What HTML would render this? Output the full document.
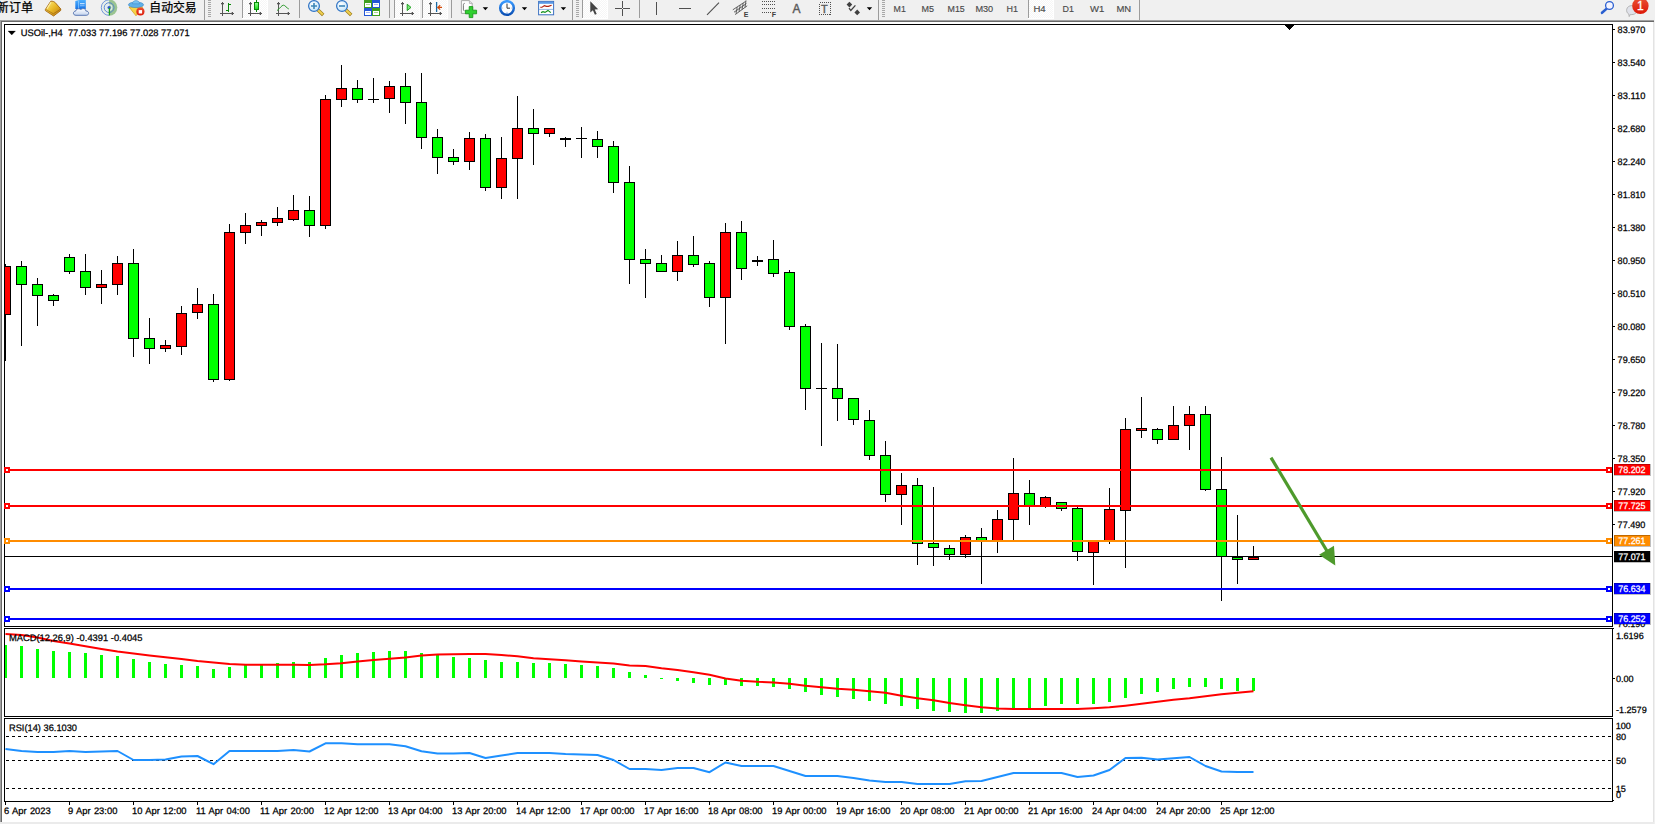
<!DOCTYPE html>
<html lang="zh"><head><meta charset="utf-8"><title>USOil-,H4</title>
<style>
html,body{margin:0;padding:0;background:#fff;}
body{width:1655px;height:824px;overflow:hidden;position:relative;font-family:"Liberation Sans","Noto Sans CJK SC",sans-serif;}
#tb{position:absolute;left:0;top:0;width:1655px;height:20px;background:#f0f0f0;overflow:hidden;}
</style></head><body>
<svg id="chart" width="1655" height="824" viewBox="0 0 1655 824" style="position:absolute;left:0;top:0" shape-rendering="crispEdges">
<defs><clipPath id="cm"><rect x="5" y="25" width="1607" height="601"/></clipPath></defs>
<rect x="0" y="20" width="1654" height="1" fill="#a0a0a0"/>
<rect x="0" y="21" width="1654" height="1" fill="#696969"/>
<rect x="0" y="20" width="1" height="804" fill="#a0a0a0"/>
<rect x="1" y="21" width="1" height="803" fill="#696969"/>
<rect x="0" y="822" width="1655" height="2" fill="#ebebeb"/>
<rect x="1653" y="22" width="1" height="800" fill="#e3e3e3"/>
<rect x="1654" y="20" width="1" height="804" fill="#f0f0f0"/>
<rect x="4" y="24" width="1609" height="1" fill="#000"/>
<rect x="4" y="626" width="1609" height="1" fill="#000"/>
<rect x="4" y="24" width="1" height="603" fill="#000"/>
<rect x="1612" y="24" width="1" height="603" fill="#000"/>
<rect x="4" y="628" width="1609" height="1" fill="#000"/>
<rect x="4" y="716" width="1609" height="1" fill="#000"/>
<rect x="4" y="628" width="1" height="89" fill="#000"/>
<rect x="1612" y="628" width="1" height="89" fill="#000"/>
<rect x="4" y="718" width="1609" height="1" fill="#000"/>
<rect x="4" y="801" width="1609" height="1" fill="#000"/>
<rect x="4" y="718" width="1" height="84" fill="#000"/>
<rect x="1612" y="718" width="1" height="84" fill="#000"/>
<g clip-path="url(#cm)">
<rect x="5" y="264" width="1" height="97" fill="#000"/>
<rect x="0" y="266" width="11" height="49" fill="#000"/>
<rect x="1" y="267" width="9" height="47" fill="#ff0000"/>
<rect x="21" y="261" width="1" height="85" fill="#000"/>
<rect x="16" y="266" width="11" height="19" fill="#000"/>
<rect x="17" y="267" width="9" height="17" fill="#00ff00"/>
<rect x="37" y="278" width="1" height="48" fill="#000"/>
<rect x="32" y="284" width="11" height="12" fill="#000"/>
<rect x="33" y="285" width="9" height="10" fill="#00ff00"/>
<rect x="53" y="294" width="1" height="12" fill="#000"/>
<rect x="48" y="295" width="11" height="6" fill="#000"/>
<rect x="49" y="296" width="9" height="4" fill="#00ff00"/>
<rect x="69" y="254" width="1" height="20" fill="#000"/>
<rect x="64" y="257" width="11" height="15" fill="#000"/>
<rect x="65" y="258" width="9" height="13" fill="#00ff00"/>
<rect x="85" y="254" width="1" height="41" fill="#000"/>
<rect x="80" y="271" width="11" height="17" fill="#000"/>
<rect x="81" y="272" width="9" height="15" fill="#00ff00"/>
<rect x="101" y="270" width="1" height="34" fill="#000"/>
<rect x="96" y="284" width="11" height="4" fill="#000"/>
<rect x="97" y="285" width="9" height="2" fill="#ff0000"/>
<rect x="117" y="256" width="1" height="39" fill="#000"/>
<rect x="112" y="263" width="11" height="22" fill="#000"/>
<rect x="113" y="264" width="9" height="20" fill="#ff0000"/>
<rect x="133" y="249" width="1" height="108" fill="#000"/>
<rect x="128" y="263" width="11" height="76" fill="#000"/>
<rect x="129" y="264" width="9" height="74" fill="#00ff00"/>
<rect x="149" y="318" width="1" height="46" fill="#000"/>
<rect x="144" y="338" width="11" height="11" fill="#000"/>
<rect x="145" y="339" width="9" height="9" fill="#00ff00"/>
<rect x="165" y="340" width="1" height="12" fill="#000"/>
<rect x="160" y="345" width="11" height="4" fill="#000"/>
<rect x="161" y="346" width="9" height="2" fill="#ff0000"/>
<rect x="181" y="306" width="1" height="49" fill="#000"/>
<rect x="176" y="313" width="11" height="34" fill="#000"/>
<rect x="177" y="314" width="9" height="32" fill="#ff0000"/>
<rect x="197" y="288" width="1" height="31" fill="#000"/>
<rect x="192" y="304" width="11" height="9" fill="#000"/>
<rect x="193" y="305" width="9" height="7" fill="#ff0000"/>
<rect x="213" y="294" width="1" height="88" fill="#000"/>
<rect x="208" y="304" width="11" height="76" fill="#000"/>
<rect x="209" y="305" width="9" height="74" fill="#00ff00"/>
<rect x="229" y="224" width="1" height="157" fill="#000"/>
<rect x="224" y="232" width="11" height="148" fill="#000"/>
<rect x="225" y="233" width="9" height="146" fill="#ff0000"/>
<rect x="245" y="213" width="1" height="31" fill="#000"/>
<rect x="240" y="225" width="11" height="8" fill="#000"/>
<rect x="241" y="226" width="9" height="6" fill="#ff0000"/>
<rect x="261" y="220" width="1" height="16" fill="#000"/>
<rect x="256" y="222" width="11" height="4" fill="#000"/>
<rect x="257" y="223" width="9" height="2" fill="#ff0000"/>
<rect x="277" y="207" width="1" height="19" fill="#000"/>
<rect x="272" y="218" width="11" height="5" fill="#000"/>
<rect x="273" y="219" width="9" height="3" fill="#ff0000"/>
<rect x="293" y="195" width="1" height="26" fill="#000"/>
<rect x="288" y="210" width="11" height="10" fill="#000"/>
<rect x="289" y="211" width="9" height="8" fill="#ff0000"/>
<rect x="309" y="196" width="1" height="41" fill="#000"/>
<rect x="304" y="210" width="11" height="16" fill="#000"/>
<rect x="305" y="211" width="9" height="14" fill="#00ff00"/>
<rect x="325" y="95" width="1" height="134" fill="#000"/>
<rect x="320" y="99" width="11" height="127" fill="#000"/>
<rect x="321" y="100" width="9" height="125" fill="#ff0000"/>
<rect x="341" y="65" width="1" height="42" fill="#000"/>
<rect x="336" y="88" width="11" height="12" fill="#000"/>
<rect x="337" y="89" width="9" height="10" fill="#ff0000"/>
<rect x="357" y="80" width="1" height="23" fill="#000"/>
<rect x="352" y="88" width="11" height="12" fill="#000"/>
<rect x="353" y="89" width="9" height="10" fill="#00ff00"/>
<rect x="373" y="78" width="1" height="25" fill="#000"/>
<rect x="368" y="99" width="11" height="1" fill="#000"/>
<rect x="389" y="81" width="1" height="32" fill="#000"/>
<rect x="384" y="86" width="11" height="13" fill="#000"/>
<rect x="385" y="87" width="9" height="11" fill="#ff0000"/>
<rect x="405" y="73" width="1" height="51" fill="#000"/>
<rect x="400" y="86" width="11" height="17" fill="#000"/>
<rect x="401" y="87" width="9" height="15" fill="#00ff00"/>
<rect x="421" y="73" width="1" height="76" fill="#000"/>
<rect x="416" y="102" width="11" height="36" fill="#000"/>
<rect x="417" y="103" width="9" height="34" fill="#00ff00"/>
<rect x="437" y="129" width="1" height="45" fill="#000"/>
<rect x="432" y="137" width="11" height="21" fill="#000"/>
<rect x="433" y="138" width="9" height="19" fill="#00ff00"/>
<rect x="453" y="149" width="1" height="16" fill="#000"/>
<rect x="448" y="157" width="11" height="5" fill="#000"/>
<rect x="449" y="158" width="9" height="3" fill="#00ff00"/>
<rect x="469" y="132" width="1" height="38" fill="#000"/>
<rect x="464" y="138" width="11" height="24" fill="#000"/>
<rect x="465" y="139" width="9" height="22" fill="#ff0000"/>
<rect x="485" y="134" width="1" height="57" fill="#000"/>
<rect x="480" y="138" width="11" height="50" fill="#000"/>
<rect x="481" y="139" width="9" height="48" fill="#00ff00"/>
<rect x="501" y="137" width="1" height="62" fill="#000"/>
<rect x="496" y="158" width="11" height="30" fill="#000"/>
<rect x="497" y="159" width="9" height="28" fill="#ff0000"/>
<rect x="517" y="96" width="1" height="103" fill="#000"/>
<rect x="512" y="128" width="11" height="31" fill="#000"/>
<rect x="513" y="129" width="9" height="29" fill="#ff0000"/>
<rect x="533" y="109" width="1" height="56" fill="#000"/>
<rect x="528" y="128" width="11" height="6" fill="#000"/>
<rect x="529" y="129" width="9" height="4" fill="#00ff00"/>
<rect x="549" y="128" width="1" height="9" fill="#000"/>
<rect x="544" y="128" width="11" height="6" fill="#000"/>
<rect x="545" y="129" width="9" height="4" fill="#ff0000"/>
<rect x="565" y="137" width="1" height="10" fill="#000"/>
<rect x="560" y="138" width="11" height="2" fill="#000"/>
<rect x="581" y="127" width="1" height="31" fill="#000"/>
<rect x="576" y="138" width="11" height="1" fill="#000"/>
<rect x="597" y="131" width="1" height="27" fill="#000"/>
<rect x="592" y="139" width="11" height="8" fill="#000"/>
<rect x="593" y="140" width="9" height="6" fill="#00ff00"/>
<rect x="613" y="141" width="1" height="52" fill="#000"/>
<rect x="608" y="146" width="11" height="37" fill="#000"/>
<rect x="609" y="147" width="9" height="35" fill="#00ff00"/>
<rect x="629" y="166" width="1" height="118" fill="#000"/>
<rect x="624" y="182" width="11" height="78" fill="#000"/>
<rect x="625" y="183" width="9" height="76" fill="#00ff00"/>
<rect x="645" y="249" width="1" height="49" fill="#000"/>
<rect x="640" y="259" width="11" height="5" fill="#000"/>
<rect x="641" y="260" width="9" height="3" fill="#00ff00"/>
<rect x="661" y="255" width="1" height="17" fill="#000"/>
<rect x="656" y="263" width="11" height="9" fill="#000"/>
<rect x="657" y="264" width="9" height="7" fill="#00ff00"/>
<rect x="677" y="241" width="1" height="40" fill="#000"/>
<rect x="672" y="255" width="11" height="17" fill="#000"/>
<rect x="673" y="256" width="9" height="15" fill="#ff0000"/>
<rect x="693" y="236" width="1" height="31" fill="#000"/>
<rect x="688" y="255" width="11" height="10" fill="#000"/>
<rect x="689" y="256" width="9" height="8" fill="#00ff00"/>
<rect x="709" y="261" width="1" height="46" fill="#000"/>
<rect x="704" y="263" width="11" height="35" fill="#000"/>
<rect x="705" y="264" width="9" height="33" fill="#00ff00"/>
<rect x="725" y="223" width="1" height="121" fill="#000"/>
<rect x="720" y="232" width="11" height="66" fill="#000"/>
<rect x="721" y="233" width="9" height="64" fill="#ff0000"/>
<rect x="741" y="221" width="1" height="59" fill="#000"/>
<rect x="736" y="232" width="11" height="37" fill="#000"/>
<rect x="737" y="233" width="9" height="35" fill="#00ff00"/>
<rect x="757" y="256" width="1" height="10" fill="#000"/>
<rect x="752" y="260" width="11" height="2" fill="#000"/>
<rect x="773" y="240" width="1" height="37" fill="#000"/>
<rect x="768" y="259" width="11" height="15" fill="#000"/>
<rect x="769" y="260" width="9" height="13" fill="#00ff00"/>
<rect x="789" y="270" width="1" height="60" fill="#000"/>
<rect x="784" y="272" width="11" height="55" fill="#000"/>
<rect x="785" y="273" width="9" height="53" fill="#00ff00"/>
<rect x="805" y="324" width="1" height="86" fill="#000"/>
<rect x="800" y="326" width="11" height="63" fill="#000"/>
<rect x="801" y="327" width="9" height="61" fill="#00ff00"/>
<rect x="821" y="343" width="1" height="103" fill="#000"/>
<rect x="816" y="388" width="11" height="1" fill="#000"/>
<rect x="837" y="344" width="1" height="77" fill="#000"/>
<rect x="832" y="388" width="11" height="11" fill="#000"/>
<rect x="833" y="389" width="9" height="9" fill="#00ff00"/>
<rect x="853" y="398" width="1" height="27" fill="#000"/>
<rect x="848" y="398" width="11" height="22" fill="#000"/>
<rect x="849" y="399" width="9" height="20" fill="#00ff00"/>
<rect x="869" y="410" width="1" height="50" fill="#000"/>
<rect x="864" y="420" width="11" height="36" fill="#000"/>
<rect x="865" y="421" width="9" height="34" fill="#00ff00"/>
<rect x="885" y="441" width="1" height="61" fill="#000"/>
<rect x="880" y="455" width="11" height="40" fill="#000"/>
<rect x="881" y="456" width="9" height="38" fill="#00ff00"/>
<rect x="901" y="473" width="1" height="52" fill="#000"/>
<rect x="896" y="485" width="11" height="10" fill="#000"/>
<rect x="897" y="486" width="9" height="8" fill="#ff0000"/>
<rect x="917" y="478" width="1" height="87" fill="#000"/>
<rect x="912" y="485" width="11" height="59" fill="#000"/>
<rect x="913" y="486" width="9" height="57" fill="#00ff00"/>
<rect x="933" y="487" width="1" height="79" fill="#000"/>
<rect x="928" y="543" width="11" height="5" fill="#000"/>
<rect x="929" y="544" width="9" height="3" fill="#00ff00"/>
<rect x="949" y="545" width="1" height="15" fill="#000"/>
<rect x="944" y="548" width="11" height="7" fill="#000"/>
<rect x="945" y="549" width="9" height="5" fill="#00ff00"/>
<rect x="965" y="535" width="1" height="23" fill="#000"/>
<rect x="960" y="537" width="11" height="18" fill="#000"/>
<rect x="961" y="538" width="9" height="16" fill="#ff0000"/>
<rect x="981" y="528" width="1" height="56" fill="#000"/>
<rect x="976" y="537" width="11" height="5" fill="#000"/>
<rect x="977" y="538" width="9" height="3" fill="#00ff00"/>
<rect x="997" y="510" width="1" height="43" fill="#000"/>
<rect x="992" y="519" width="11" height="23" fill="#000"/>
<rect x="993" y="520" width="9" height="21" fill="#ff0000"/>
<rect x="1013" y="458" width="1" height="82" fill="#000"/>
<rect x="1008" y="493" width="11" height="27" fill="#000"/>
<rect x="1009" y="494" width="9" height="25" fill="#ff0000"/>
<rect x="1029" y="480" width="1" height="45" fill="#000"/>
<rect x="1024" y="493" width="11" height="14" fill="#000"/>
<rect x="1025" y="494" width="9" height="12" fill="#00ff00"/>
<rect x="1045" y="496" width="1" height="12" fill="#000"/>
<rect x="1040" y="497" width="11" height="10" fill="#000"/>
<rect x="1041" y="498" width="9" height="8" fill="#ff0000"/>
<rect x="1061" y="502" width="1" height="9" fill="#000"/>
<rect x="1056" y="502" width="11" height="7" fill="#000"/>
<rect x="1057" y="503" width="9" height="5" fill="#00ff00"/>
<rect x="1077" y="507" width="1" height="54" fill="#000"/>
<rect x="1072" y="508" width="11" height="44" fill="#000"/>
<rect x="1073" y="509" width="9" height="42" fill="#00ff00"/>
<rect x="1093" y="541" width="1" height="44" fill="#000"/>
<rect x="1088" y="541" width="11" height="12" fill="#000"/>
<rect x="1089" y="542" width="9" height="10" fill="#ff0000"/>
<rect x="1109" y="488" width="1" height="56" fill="#000"/>
<rect x="1104" y="509" width="11" height="33" fill="#000"/>
<rect x="1105" y="510" width="9" height="31" fill="#ff0000"/>
<rect x="1125" y="418" width="1" height="150" fill="#000"/>
<rect x="1120" y="429" width="11" height="82" fill="#000"/>
<rect x="1121" y="430" width="9" height="80" fill="#ff0000"/>
<rect x="1141" y="397" width="1" height="41" fill="#000"/>
<rect x="1136" y="428" width="11" height="3" fill="#000"/>
<rect x="1137" y="429" width="9" height="1" fill="#ff0000"/>
<rect x="1157" y="428" width="1" height="16" fill="#000"/>
<rect x="1152" y="429" width="11" height="11" fill="#000"/>
<rect x="1153" y="430" width="9" height="9" fill="#00ff00"/>
<rect x="1173" y="406" width="1" height="34" fill="#000"/>
<rect x="1168" y="425" width="11" height="15" fill="#000"/>
<rect x="1169" y="426" width="9" height="13" fill="#ff0000"/>
<rect x="1189" y="406" width="1" height="44" fill="#000"/>
<rect x="1184" y="414" width="11" height="12" fill="#000"/>
<rect x="1185" y="415" width="9" height="10" fill="#ff0000"/>
<rect x="1205" y="406" width="1" height="85" fill="#000"/>
<rect x="1200" y="414" width="11" height="76" fill="#000"/>
<rect x="1201" y="415" width="9" height="74" fill="#00ff00"/>
<rect x="1221" y="457" width="1" height="144" fill="#000"/>
<rect x="1216" y="489" width="11" height="68" fill="#000"/>
<rect x="1217" y="490" width="9" height="66" fill="#00ff00"/>
<rect x="1237" y="515" width="1" height="69" fill="#000"/>
<rect x="1232" y="557" width="11" height="3" fill="#000"/>
<rect x="1233" y="558" width="9" height="1" fill="#00ff00"/>
<rect x="1253" y="546" width="1" height="14" fill="#000"/>
<rect x="1248" y="557" width="11" height="3" fill="#000"/>
<rect x="1249" y="558" width="9" height="1" fill="#ff0000"/>
</g>
<rect x="5" y="556" width="1607" height="1" fill="#000"/>
<rect x="5" y="469" width="1607" height="2" fill="#ff0000"/>
<rect x="4" y="467" width="6" height="6" fill="#ff0000"/>
<rect x="6" y="469" width="2" height="2" fill="#fff"/>
<rect x="1606" y="467" width="6" height="6" fill="#ff0000"/>
<rect x="1608" y="469" width="2" height="2" fill="#fff"/>
<rect x="1612" y="467" width="1" height="6" fill="#000"/>
<rect x="5" y="505" width="1607" height="2" fill="#ff0000"/>
<rect x="4" y="503" width="6" height="6" fill="#ff0000"/>
<rect x="6" y="505" width="2" height="2" fill="#fff"/>
<rect x="1606" y="503" width="6" height="6" fill="#ff0000"/>
<rect x="1608" y="505" width="2" height="2" fill="#fff"/>
<rect x="1612" y="503" width="1" height="6" fill="#000"/>
<rect x="5" y="540" width="1607" height="2" fill="#ff8c00"/>
<rect x="4" y="538" width="6" height="6" fill="#ff8c00"/>
<rect x="6" y="540" width="2" height="2" fill="#fff"/>
<rect x="1606" y="538" width="6" height="6" fill="#ff8c00"/>
<rect x="1608" y="540" width="2" height="2" fill="#fff"/>
<rect x="1612" y="538" width="1" height="6" fill="#000"/>
<rect x="5" y="588" width="1607" height="2" fill="#0000ff"/>
<rect x="4" y="586" width="6" height="6" fill="#0000ff"/>
<rect x="6" y="588" width="2" height="2" fill="#fff"/>
<rect x="1606" y="586" width="6" height="6" fill="#0000ff"/>
<rect x="1608" y="588" width="2" height="2" fill="#fff"/>
<rect x="1612" y="586" width="1" height="6" fill="#000"/>
<rect x="5" y="618" width="1607" height="2" fill="#0000ff"/>
<rect x="4" y="616" width="6" height="6" fill="#0000ff"/>
<rect x="6" y="618" width="2" height="2" fill="#fff"/>
<rect x="1606" y="616" width="6" height="6" fill="#0000ff"/>
<rect x="1608" y="618" width="2" height="2" fill="#fff"/>
<rect x="1612" y="616" width="1" height="6" fill="#000"/>
<rect x="1285" y="25" width="9" height="1" fill="#000"/>
<rect x="1286" y="26" width="7" height="1" fill="#000"/>
<rect x="1287" y="27" width="5" height="1" fill="#000"/>
<rect x="1288" y="28" width="3" height="1" fill="#000"/>
<rect x="1289" y="29" width="1" height="1" fill="#000"/>
<g shape-rendering="geometricPrecision"><line x1="1271" y1="457.6" x2="1327" y2="551" stroke="#4e9a2c" stroke-width="3.2"/><polygon points="1319,554.8 1334,545.8 1335.3,565.5" fill="#4e9a2c"/></g>
<rect x="1613" y="29" width="2" height="1" fill="#000"/>
<rect x="1613" y="62" width="2" height="1" fill="#000"/>
<rect x="1613" y="95" width="2" height="1" fill="#000"/>
<rect x="1613" y="128" width="2" height="1" fill="#000"/>
<rect x="1613" y="161" width="2" height="1" fill="#000"/>
<rect x="1613" y="194" width="2" height="1" fill="#000"/>
<rect x="1613" y="227" width="2" height="1" fill="#000"/>
<rect x="1613" y="260" width="2" height="1" fill="#000"/>
<rect x="1613" y="293" width="2" height="1" fill="#000"/>
<rect x="1613" y="326" width="2" height="1" fill="#000"/>
<rect x="1613" y="359" width="2" height="1" fill="#000"/>
<rect x="1613" y="392" width="2" height="1" fill="#000"/>
<rect x="1613" y="425" width="2" height="1" fill="#000"/>
<rect x="1613" y="458" width="2" height="1" fill="#000"/>
<rect x="1613" y="491" width="2" height="1" fill="#000"/>
<rect x="1613" y="524" width="2" height="1" fill="#000"/>
<rect x="4" y="645" width="3" height="33" fill="#00ff00"/>
<rect x="20" y="646" width="3" height="32" fill="#00ff00"/>
<rect x="36" y="649" width="3" height="29" fill="#00ff00"/>
<rect x="52" y="651" width="3" height="27" fill="#00ff00"/>
<rect x="68" y="652" width="3" height="26" fill="#00ff00"/>
<rect x="84" y="653" width="3" height="25" fill="#00ff00"/>
<rect x="100" y="655" width="3" height="23" fill="#00ff00"/>
<rect x="116" y="656" width="3" height="22" fill="#00ff00"/>
<rect x="132" y="659" width="3" height="19" fill="#00ff00"/>
<rect x="148" y="662" width="3" height="16" fill="#00ff00"/>
<rect x="164" y="664" width="3" height="14" fill="#00ff00"/>
<rect x="180" y="665" width="3" height="13" fill="#00ff00"/>
<rect x="196" y="666" width="3" height="12" fill="#00ff00"/>
<rect x="212" y="669" width="3" height="9" fill="#00ff00"/>
<rect x="228" y="667" width="3" height="11" fill="#00ff00"/>
<rect x="244" y="665" width="3" height="13" fill="#00ff00"/>
<rect x="260" y="665" width="3" height="13" fill="#00ff00"/>
<rect x="276" y="663" width="3" height="15" fill="#00ff00"/>
<rect x="292" y="662" width="3" height="16" fill="#00ff00"/>
<rect x="308" y="662" width="3" height="16" fill="#00ff00"/>
<rect x="324" y="658" width="3" height="20" fill="#00ff00"/>
<rect x="340" y="655" width="3" height="23" fill="#00ff00"/>
<rect x="356" y="653" width="3" height="25" fill="#00ff00"/>
<rect x="372" y="652" width="3" height="26" fill="#00ff00"/>
<rect x="388" y="651" width="3" height="27" fill="#00ff00"/>
<rect x="404" y="651" width="3" height="27" fill="#00ff00"/>
<rect x="420" y="653" width="3" height="25" fill="#00ff00"/>
<rect x="436" y="655" width="3" height="23" fill="#00ff00"/>
<rect x="452" y="657" width="3" height="21" fill="#00ff00"/>
<rect x="468" y="658" width="3" height="20" fill="#00ff00"/>
<rect x="484" y="660" width="3" height="18" fill="#00ff00"/>
<rect x="500" y="662" width="3" height="16" fill="#00ff00"/>
<rect x="516" y="662" width="3" height="16" fill="#00ff00"/>
<rect x="532" y="663" width="3" height="15" fill="#00ff00"/>
<rect x="548" y="663" width="3" height="15" fill="#00ff00"/>
<rect x="564" y="664" width="3" height="14" fill="#00ff00"/>
<rect x="580" y="665" width="3" height="13" fill="#00ff00"/>
<rect x="596" y="666" width="3" height="12" fill="#00ff00"/>
<rect x="612" y="668" width="3" height="10" fill="#00ff00"/>
<rect x="628" y="672" width="3" height="6" fill="#00ff00"/>
<rect x="644" y="675" width="3" height="3" fill="#00ff00"/>
<rect x="660" y="678" width="3" height="1" fill="#00ff00"/>
<rect x="676" y="678" width="3" height="3" fill="#00ff00"/>
<rect x="692" y="678" width="3" height="5" fill="#00ff00"/>
<rect x="708" y="678" width="3" height="7" fill="#00ff00"/>
<rect x="724" y="678" width="3" height="7" fill="#00ff00"/>
<rect x="740" y="678" width="3" height="8" fill="#00ff00"/>
<rect x="756" y="678" width="3" height="8" fill="#00ff00"/>
<rect x="772" y="678" width="3" height="9" fill="#00ff00"/>
<rect x="788" y="678" width="3" height="11" fill="#00ff00"/>
<rect x="804" y="678" width="3" height="14" fill="#00ff00"/>
<rect x="820" y="678" width="3" height="17" fill="#00ff00"/>
<rect x="836" y="678" width="3" height="19" fill="#00ff00"/>
<rect x="852" y="678" width="3" height="21" fill="#00ff00"/>
<rect x="868" y="678" width="3" height="23" fill="#00ff00"/>
<rect x="884" y="678" width="3" height="26" fill="#00ff00"/>
<rect x="900" y="678" width="3" height="28" fill="#00ff00"/>
<rect x="916" y="678" width="3" height="31" fill="#00ff00"/>
<rect x="932" y="678" width="3" height="33" fill="#00ff00"/>
<rect x="948" y="678" width="3" height="34" fill="#00ff00"/>
<rect x="964" y="678" width="3" height="35" fill="#00ff00"/>
<rect x="980" y="678" width="3" height="35" fill="#00ff00"/>
<rect x="996" y="678" width="3" height="33" fill="#00ff00"/>
<rect x="1012" y="678" width="3" height="31" fill="#00ff00"/>
<rect x="1028" y="678" width="3" height="31" fill="#00ff00"/>
<rect x="1044" y="678" width="3" height="28" fill="#00ff00"/>
<rect x="1060" y="678" width="3" height="26" fill="#00ff00"/>
<rect x="1076" y="678" width="3" height="26" fill="#00ff00"/>
<rect x="1092" y="678" width="3" height="26" fill="#00ff00"/>
<rect x="1108" y="678" width="3" height="24" fill="#00ff00"/>
<rect x="1124" y="678" width="3" height="20" fill="#00ff00"/>
<rect x="1140" y="678" width="3" height="16" fill="#00ff00"/>
<rect x="1156" y="678" width="3" height="14" fill="#00ff00"/>
<rect x="1172" y="678" width="3" height="11" fill="#00ff00"/>
<rect x="1188" y="678" width="3" height="9" fill="#00ff00"/>
<rect x="1204" y="678" width="3" height="9" fill="#00ff00"/>
<rect x="1220" y="678" width="3" height="11" fill="#00ff00"/>
<rect x="1236" y="678" width="3" height="13" fill="#00ff00"/>
<rect x="1252" y="678" width="3" height="13" fill="#00ff00"/>
<rect x="1613" y="678" width="2" height="1" fill="#000"/>
<rect x="1613" y="800" width="1" height="1" fill="#000"/>
<rect x="1613" y="628" width="1" height="1" fill="#000"/>
<polyline points="5.5,634 21.5,635 37.5,637.5 53.5,641 69.5,643.5 85.5,646.3 101.5,649 117.5,651.5 133.5,653.5 149.5,655.5 165.5,657.3 181.5,659 197.5,661 213.5,662.5 229.5,664 245.5,664.7 261.5,664.7 277.5,664.7 293.5,664.7 309.5,664.9 325.5,664.3 341.5,663.3 357.5,661.5 373.5,660 389.5,658.7 405.5,657.5 421.5,655.5 437.5,654.5 453.5,654.3 469.5,654 485.5,654 501.5,655 517.5,656.3 533.5,658.3 549.5,659.3 565.5,660.3 581.5,661.5 597.5,662.5 613.5,663.5 629.5,665.5 645.5,665.9 661.5,668.3 677.5,669.9 693.5,672.2 709.5,674.8 725.5,678.4 741.5,680.8 757.5,681.8 773.5,682.4 789.5,683.8 805.5,685.8 821.5,687.2 837.5,688.8 853.5,689.8 869.5,691.2 885.5,692.8 901.5,695.8 917.5,698.2 933.5,700.2 949.5,703 965.5,705.3 981.5,707.3 997.5,708.5 1013.5,709 1029.5,709 1045.5,709 1061.5,709 1077.5,709 1093.5,708.3 1109.5,707.3 1125.5,705.7 1141.5,703.8 1157.5,701.8 1173.5,699.8 1189.5,698.2 1205.5,696.2 1221.5,694.2 1237.5,692.8 1253.5,691.2" fill="none" stroke="#ff0000" stroke-width="2" shape-rendering="geometricPrecision" stroke-linejoin="round"/>
<line x1="6" y1="736.5" x2="1612" y2="736.5" stroke="#000" stroke-width="1" stroke-dasharray="3 3"/>
<line x1="6" y1="760.5" x2="1612" y2="760.5" stroke="#000" stroke-width="1" stroke-dasharray="3 3"/>
<line x1="6" y1="788.5" x2="1612" y2="788.5" stroke="#000" stroke-width="1" stroke-dasharray="3 3"/>
<polyline points="5.5,749 21.5,751 37.5,752 53.5,752 69.5,751 85.5,752 101.5,751.5 117.5,751 133.5,760 149.5,760 165.5,759.5 181.5,756.5 197.5,756 213.5,764.2 229.5,751 245.5,751 261.5,751 277.5,751 293.5,750 309.5,751.5 325.5,743.3 341.5,743.3 357.5,744.3 373.5,744.3 389.5,744.3 405.5,746.3 421.5,751.3 437.5,753.5 453.5,753.5 469.5,753 485.5,758 501.5,755.5 517.5,753 533.5,753 549.5,753 565.5,754 581.5,754.5 597.5,755 613.5,760 629.5,769 645.5,769 661.5,770 677.5,768 693.5,768 709.5,772.2 725.5,762.5 741.5,766 757.5,766 773.5,766 789.5,771 805.5,776 821.5,776 837.5,776 853.5,778 869.5,780.5 885.5,782 901.5,782 917.5,784 933.5,784 949.5,784 965.5,781.3 981.5,781 997.5,777 1013.5,773 1029.5,773 1045.5,773 1061.5,773 1077.5,777 1093.5,775.5 1109.5,770 1125.5,758 1141.5,757.7 1157.5,759.5 1173.5,758.3 1189.5,757 1205.5,766 1221.5,771.5 1237.5,772 1253.5,772" fill="none" stroke="#1e90ff" stroke-width="2" shape-rendering="geometricPrecision" stroke-linejoin="round"/>
<rect x="5" y="802" width="1" height="3" fill="#000"/>
<rect x="69" y="802" width="1" height="3" fill="#000"/>
<rect x="133" y="802" width="1" height="3" fill="#000"/>
<rect x="197" y="802" width="1" height="3" fill="#000"/>
<rect x="261" y="802" width="1" height="3" fill="#000"/>
<rect x="325" y="802" width="1" height="3" fill="#000"/>
<rect x="389" y="802" width="1" height="3" fill="#000"/>
<rect x="453" y="802" width="1" height="3" fill="#000"/>
<rect x="517" y="802" width="1" height="3" fill="#000"/>
<rect x="581" y="802" width="1" height="3" fill="#000"/>
<rect x="645" y="802" width="1" height="3" fill="#000"/>
<rect x="709" y="802" width="1" height="3" fill="#000"/>
<rect x="773" y="802" width="1" height="3" fill="#000"/>
<rect x="837" y="802" width="1" height="3" fill="#000"/>
<rect x="901" y="802" width="1" height="3" fill="#000"/>
<rect x="965" y="802" width="1" height="3" fill="#000"/>
<rect x="1029" y="802" width="1" height="3" fill="#000"/>
<rect x="1093" y="802" width="1" height="3" fill="#000"/>
<rect x="1157" y="802" width="1" height="3" fill="#000"/>
<rect x="1221" y="802" width="1" height="3" fill="#000"/>
<rect x="4" y="628" width="1" height="89" fill="#000"/>
<g shape-rendering="geometricPrecision" text-rendering="geometricPrecision" font-family="'Liberation Sans', Arial, sans-serif" font-size="9.4px" fill="#000" stroke="#000" stroke-width="0.25">
<polygon points="8,31 15.5,31 11.75,35" fill="#000"/>
<text x="20.8" y="35.8" textLength="168.8" lengthAdjust="spacingAndGlyphs" xml:space="preserve">USOil-,H4&#160;&#160;77.033 77.196 77.028 77.071</text>
<text x="1617.6" y="32.8" textLength="27.8" lengthAdjust="spacingAndGlyphs">83.970</text>
<text x="1617.6" y="65.8" textLength="27.8" lengthAdjust="spacingAndGlyphs">83.540</text>
<text x="1617.6" y="98.8" textLength="27.8" lengthAdjust="spacingAndGlyphs">83.110</text>
<text x="1617.6" y="131.8" textLength="27.8" lengthAdjust="spacingAndGlyphs">82.680</text>
<text x="1617.6" y="164.8" textLength="27.8" lengthAdjust="spacingAndGlyphs">82.240</text>
<text x="1617.6" y="197.8" textLength="27.8" lengthAdjust="spacingAndGlyphs">81.810</text>
<text x="1617.6" y="230.8" textLength="27.8" lengthAdjust="spacingAndGlyphs">81.380</text>
<text x="1617.6" y="263.8" textLength="27.8" lengthAdjust="spacingAndGlyphs">80.950</text>
<text x="1617.6" y="296.8" textLength="27.8" lengthAdjust="spacingAndGlyphs">80.510</text>
<text x="1617.6" y="329.8" textLength="27.8" lengthAdjust="spacingAndGlyphs">80.080</text>
<text x="1617.6" y="362.8" textLength="27.8" lengthAdjust="spacingAndGlyphs">79.650</text>
<text x="1617.6" y="395.8" textLength="27.8" lengthAdjust="spacingAndGlyphs">79.220</text>
<text x="1617.6" y="428.8" textLength="27.8" lengthAdjust="spacingAndGlyphs">78.780</text>
<text x="1617.6" y="461.8" textLength="27.8" lengthAdjust="spacingAndGlyphs">78.350</text>
<text x="1617.6" y="494.8" textLength="27.8" lengthAdjust="spacingAndGlyphs">77.920</text>
<text x="1617.6" y="527.8" textLength="27.8" lengthAdjust="spacingAndGlyphs">77.490</text>
<text x="1617.6" y="626.6" textLength="27.8" lengthAdjust="spacingAndGlyphs">76.190</text>
<g shape-rendering="crispEdges">
<rect x="1614" y="464" width="36" height="11" fill="#ff0000"/>
<text x="1618.2" y="472.9" fill="#fff" stroke="#fff" textLength="27.4" lengthAdjust="spacingAndGlyphs">78.202</text>
<rect x="1614" y="500" width="36" height="11" fill="#ff0000"/>
<text x="1618.2" y="508.9" fill="#fff" stroke="#fff" textLength="27.4" lengthAdjust="spacingAndGlyphs">77.725</text>
<rect x="1614" y="535" width="36" height="11" fill="#ff8c00"/>
<text x="1618.2" y="543.9" fill="#fff" stroke="#fff" textLength="27.4" lengthAdjust="spacingAndGlyphs">77.261</text>
<rect x="1614" y="551" width="36" height="11" fill="#000000"/>
<text x="1618.2" y="559.9" fill="#fff" stroke="#fff" textLength="27.4" lengthAdjust="spacingAndGlyphs">77.071</text>
<rect x="1614" y="583" width="36" height="11" fill="#0000ff"/>
<text x="1618.2" y="591.9" fill="#fff" stroke="#fff" textLength="27.4" lengthAdjust="spacingAndGlyphs">76.634</text>
<rect x="1614" y="613" width="36" height="11" fill="#0000ff"/>
<text x="1618.2" y="621.9" fill="#fff" stroke="#fff" textLength="27.4" lengthAdjust="spacingAndGlyphs">76.252</text>
</g>
<text x="9" y="641.0" textLength="133.5" lengthAdjust="spacingAndGlyphs">MACD(12,26,9) -0.4391 -0.4045</text>
<text x="1615.9" y="638.9" font-size="9.1px">1.6196</text>
<text x="1615.9" y="681.8" font-size="9.1px">0.00</text>
<text x="1615.9" y="713.2" font-size="9.1px">-1.2579</text>
<text x="9" y="730.6" textLength="68" lengthAdjust="spacingAndGlyphs">RSI(14) 36.1030</text>
<text x="1615.7" y="729.3" font-size="9.1px">100</text>
<text x="1615.9" y="739.8" font-size="9.1px">80</text>
<text x="1615.9" y="763.8" font-size="9.1px">50</text>
<text x="1615.7" y="791.8" font-size="9.1px">15</text>
<text x="1615.9" y="797.9" font-size="9.1px">0</text>
<text x="4.0" y="814.0" word-spacing="0.7">6 Apr 2023</text>
<text x="68.0" y="814.0" word-spacing="0.7">9 Apr 23:00</text>
<text x="132.0" y="814.0" word-spacing="0.7">10 Apr 12:00</text>
<text x="196.0" y="814.0" word-spacing="0.7">11 Apr 04:00</text>
<text x="260.0" y="814.0" word-spacing="0.7">11 Apr 20:00</text>
<text x="324.0" y="814.0" word-spacing="0.7">12 Apr 12:00</text>
<text x="388.0" y="814.0" word-spacing="0.7">13 Apr 04:00</text>
<text x="452.0" y="814.0" word-spacing="0.7">13 Apr 20:00</text>
<text x="516.0" y="814.0" word-spacing="0.7">14 Apr 12:00</text>
<text x="580.0" y="814.0" word-spacing="0.7">17 Apr 00:00</text>
<text x="644.0" y="814.0" word-spacing="0.7">17 Apr 16:00</text>
<text x="708.0" y="814.0" word-spacing="0.7">18 Apr 08:00</text>
<text x="772.0" y="814.0" word-spacing="0.7">19 Apr 00:00</text>
<text x="836.0" y="814.0" word-spacing="0.7">19 Apr 16:00</text>
<text x="900.0" y="814.0" word-spacing="0.7">20 Apr 08:00</text>
<text x="964.0" y="814.0" word-spacing="0.7">21 Apr 00:00</text>
<text x="1028.0" y="814.0" word-spacing="0.7">21 Apr 16:00</text>
<text x="1092.0" y="814.0" word-spacing="0.7">24 Apr 04:00</text>
<text x="1156.0" y="814.0" word-spacing="0.7">24 Apr 20:00</text>
<text x="1220.0" y="814.0" word-spacing="0.7">25 Apr 12:00</text>
</g>
</svg>
<div id="tb"><svg width="1655" height="20" viewBox="0 0 1655 20" style="position:absolute;left:0;top:0">
<defs>
<linearGradient id="gGold" x1="0" y1="0" x2="1" y2="1"><stop offset="0" stop-color="#fff08a"/><stop offset="0.5" stop-color="#e9b928"/><stop offset="1" stop-color="#b87410"/></linearGradient>
<linearGradient id="gBlue" x1="0" y1="0" x2="0" y2="1"><stop offset="0" stop-color="#4db0ff"/><stop offset="1" stop-color="#1673e6"/></linearGradient>
<linearGradient id="gCloud" x1="0" y1="0" x2="0" y2="1"><stop offset="0" stop-color="#ffffff"/><stop offset="1" stop-color="#c4d4ee"/></linearGradient>
<linearGradient id="gRed" x1="0" y1="0" x2="0" y2="1"><stop offset="0" stop-color="#ea5336"/><stop offset="1" stop-color="#dc1606"/></linearGradient>
<linearGradient id="gGreen" x1="0" y1="0" x2="1" y2="0"><stop offset="0" stop-color="#22c022"/><stop offset="0.5" stop-color="#7af07a"/><stop offset="1" stop-color="#22c022"/></linearGradient>
<linearGradient id="gGreenV" x1="0" y1="0" x2="0" y2="1"><stop offset="0" stop-color="#8cff8c"/><stop offset="1" stop-color="#1edc1e"/></linearGradient>
<radialGradient id="gLens" cx="0.4" cy="0.35" r="0.7"><stop offset="0" stop-color="#ffffff"/><stop offset="1" stop-color="#bfe2fa"/></radialGradient>
<linearGradient id="gClock" x1="0" y1="0" x2="0" y2="1"><stop offset="0" stop-color="#3a9bff"/><stop offset="1" stop-color="#0a4fb4"/></linearGradient>
<pattern id="chk" width="2" height="2" patternUnits="userSpaceOnUse"><rect width="2" height="2" fill="#f6f6f6"/><rect width="1" height="1" fill="#ffffff"/><rect x="1" y="1" width="1" height="1" fill="#ffffff"/></pattern>
<g id="axes" fill="#555555" shape-rendering="crispEdges"><rect x="2" y="2" width="1" height="14"/><rect x="1" y="3" width="3" height="1"/><rect x="1" y="4" width="3" height="1" opacity="0.3"/><rect x="0" y="13" width="14" height="1"/><rect x="12" y="12" width="1" height="3"/><rect x="11" y="12" width="1" height="3" opacity="0.3"/></g>
<polygon id="dd" points="0,0 5.4,0 2.7,3"/>
<g id="grip" fill="#a8a8a8"><rect x="0" y="0" width="3" height="1"/><rect x="0" y="2" width="3" height="1"/><rect x="0" y="4" width="3" height="1"/><rect x="0" y="6" width="3" height="1"/><rect x="0" y="8" width="3" height="1"/><rect x="0" y="10" width="3" height="1"/><rect x="0" y="12" width="3" height="1"/><rect x="0" y="14" width="3" height="1"/><rect x="0" y="16" width="3" height="1"/></g>
</defs>
<rect x="0" y="0" width="1655" height="20" fill="#f0f0f0"/>
<!-- pressed buttons -->
<g shape-rendering="crispEdges">
<rect x="243" y="0" width="24" height="18" fill="url(#chk)"/><rect x="267" y="0" width="1" height="19" fill="#fff"/><rect x="242" y="18" width="26" height="1" fill="#fff"/>
<rect x="395" y="0" width="24" height="18" fill="url(#chk)"/><rect x="419" y="0" width="1" height="19" fill="#fff"/><rect x="394" y="18" width="26" height="1" fill="#fff"/>
<rect x="423" y="0" width="24" height="18" fill="url(#chk)"/><rect x="447" y="0" width="1" height="19" fill="#fff"/><rect x="422" y="18" width="26" height="1" fill="#fff"/>
<rect x="583" y="0" width="24" height="18" fill="url(#chk)"/><rect x="607" y="0" width="1" height="19" fill="#fff"/><rect x="582" y="18" width="26" height="1" fill="#fff"/>
<rect x="1029" y="0" width="24" height="18" fill="url(#chk)"/><rect x="1053" y="0" width="1" height="19" fill="#fff"/><rect x="1028" y="18" width="26" height="1" fill="#fff"/>
<!-- separators -->
<g fill="#9c9c9c">
<rect x="204" y="0" width="1" height="20"/>
<rect x="242" y="0" width="1" height="18"/>
<rect x="299" y="0" width="1" height="18"/>
<rect x="389" y="0" width="1" height="18"/>
<rect x="394" y="0" width="1" height="18"/>
<rect x="422" y="0" width="1" height="18"/>
<rect x="451" y="0" width="1" height="18"/>
<rect x="572" y="0" width="1" height="20"/>
<rect x="582" y="0" width="1" height="18"/>
<rect x="639" y="0" width="1" height="18"/>
<rect x="878" y="0" width="1" height="20"/>
<rect x="1028" y="0" width="1" height="18"/>
<rect x="1139" y="0" width="1" height="20"/>
</g>
<use href="#grip" x="208" y="0"/><use href="#grip" x="576" y="0"/><use href="#grip" x="882" y="0"/>
</g>
<!-- text -->
<g font-family="'Liberation Sans','Noto Sans CJK SC',sans-serif" font-size="12px" fill="#000" stroke="#000" stroke-width="0.25">
<text x="-3.4" y="11.7" textLength="36.6" lengthAdjust="spacingAndGlyphs">新订单</text>
<text x="149.3" y="11.7" textLength="47.4" lengthAdjust="spacingAndGlyphs">自动交易</text>
</g>
<!-- icon 1: gold book -->
<g><path d="M50.8,1.2 C52.6,1 54,1.6 55.2,2.6 L60.8,9 L60.6,10.6 L53.6,16 L45.4,10.6 C45,9.8 45.6,9 46.2,8.2 Z" fill="url(#gGold)" stroke="#a5660e" stroke-width="0.9" stroke-linejoin="round"/><path d="M45.8,9.4 L53.4,13.8 L60.4,9.2" fill="none" stroke="#8a5208" stroke-width="0.7" opacity="0.75"/><path d="M51,2.2 L47,8.6" stroke="#fff6b0" stroke-width="1.2" opacity="0.8"/></g>
<!-- icon 2: server + cloud -->
<g><path d="M75.3,1 L79,0 H85.8 V9 H75.3 Z" fill="url(#gBlue)"/><path d="M78.6,0.6 V9" stroke="#9fd4ff" stroke-width="0.7"/><rect x="80" y="3.2" width="4.6" height="1" fill="#dff1ff"/><rect x="80" y="5.4" width="4.6" height="0.8" fill="#9fd0ff"/>
<path d="M76,15.3 C72.6,15.3 72.6,11.2 75.8,11 C76,8.6 79.6,8 80.8,9.8 C82.4,7.6 86,8.6 85.8,11 C89.4,10.8 89.6,15.3 86.2,15.3 Z" fill="url(#gCloud)" stroke="#4c6cab" stroke-width="0.9"/></g>
<!-- icon 3: radar -->
<g fill="none"><circle cx="109.1" cy="7.6" r="8" fill="#e6efe6" stroke="none" opacity="0.8"/><path d="M109.1,15.2 A7.6,7.6 0 0 0 109.1,0 A7.6,7.6 0 0 1 109.1,15.2" fill="#86b87c" opacity="0.0"/><path d="M109.1,7.6 L109.1,15.8 A8.2,8.2 0 0 0 109.1,-0.6 Z" fill="#86b97c" opacity="0.8"/>
<path d="M109.1,-0.2 A7.8,7.8 0 0 0 109.1,15.4" stroke="#5f88d8" stroke-width="1" opacity="0.85"/><circle cx="109.1" cy="7.6" r="4.9" stroke="#4a78d4" stroke-width="1" opacity="0.85"/><circle cx="109.1" cy="7.6" r="2.8" stroke="#dfe9f8" stroke-width="1.1"/><circle cx="109" cy="7.4" r="1.5" fill="#2a58c8"/><path d="M109.4,8 V15.4" stroke="#18a018" stroke-width="1.3"/></g>
<!-- icon 4: hat + stop -->
<g><path d="M129,7 L142.6,7 L136,15.8 Z" fill="#f6d446" stroke="#d09a18" stroke-width="0.7" stroke-linejoin="round"/><ellipse cx="136" cy="4.8" rx="7.6" ry="2.8" fill="#5fb0e8" stroke="#3d86c4" stroke-width="0.6"/><path d="M132.4,3.8 C132.6,-0.6 139.4,-0.6 139.6,3.8 Z" fill="#74bff0" stroke="#3d86c4" stroke-width="0.5"/>
<circle cx="140.4" cy="11.5" r="4.1" fill="url(#gRed)"/><rect x="138.7" y="10.1" width="3.4" height="3.4" fill="#fff"/></g>
<!-- chart type icons -->
<use href="#axes" x="220" y="0"/><g shape-rendering="crispEdges" fill="#088a08"><rect x="228" y="3" width="1" height="9"/><rect x="229" y="4" width="2" height="1"/><rect x="226" y="10" width="2" height="1"/></g>
<use href="#axes" x="248" y="0"/><g shape-rendering="crispEdges"><rect x="256" y="0" width="1" height="12" fill="#088a08"/><rect x="254" y="2" width="5" height="8" fill="#088a08"/><rect x="255" y="3" width="3" height="6" fill="url(#gGreenV)"/></g>
<use href="#axes" x="276" y="0"/><path d="M277,10.6 C280,8.4 281.6,5.2 283.4,5.2 C285.2,5.2 286.6,8 288.8,9" stroke="#2a9a2a" stroke-width="1" fill="none"/>
<!-- zoom in/out -->
<g><path d="M318,10 L323.2,14.9" stroke="#9a7a18" stroke-width="3.4"/><path d="M318,10 L322.8,14.5" stroke="#f0d050" stroke-width="2"/><circle cx="314" cy="6" r="5.4" fill="url(#gLens)" stroke="#2e72c4" stroke-width="1.2"/><path d="M311,6 H317 M314,3 V9" stroke="#3c86b8" stroke-width="1.6"/></g>
<g><path d="M346,10 L351.2,14.9" stroke="#9a7a18" stroke-width="3.4"/><path d="M346,10 L350.8,14.5" stroke="#f0d050" stroke-width="2"/><circle cx="342" cy="6" r="5.4" fill="url(#gLens)" stroke="#2e72c4" stroke-width="1.2"/><path d="M339,6 H345" stroke="#3c86b8" stroke-width="1.6"/></g>
<!-- grid icon -->
<g shape-rendering="crispEdges"><rect x="364" y="0" width="8" height="8" fill="#3f9f1f"/><rect x="372" y="0" width="8" height="8" fill="#2456d6"/><rect x="364" y="8" width="8" height="8" fill="#2456d6"/><rect x="372" y="8" width="8" height="8" fill="#3f9f1f"/>
<rect x="365" y="3" width="6" height="4" fill="#fff"/><rect x="373" y="3" width="6" height="4" fill="#fff"/><rect x="365" y="11" width="6" height="4" fill="#fff"/><rect x="373" y="11" width="6" height="4" fill="#fff"/>
<rect x="366" y="4" width="4" height="1" fill="#a8d890"/><rect x="374" y="4" width="4" height="1" fill="#a8b8f0"/><rect x="366" y="12" width="4" height="1" fill="#a8b8f0"/><rect x="374" y="12" width="4" height="1" fill="#a8d890"/></g>
<!-- autoscroll / shift -->
<use href="#axes" x="400" y="0"/><path d="M407.2,4.2 L411,7.4 L407.2,10.6 Z" fill="#7ae87a" stroke="#129a12" stroke-width="0.9" stroke-linejoin="round"/>
<use href="#axes" x="428" y="0"/><path d="M436.6,2 V12" stroke="#1a6aa4" stroke-width="1.3"/><path d="M437.8,7.4 H442 M440.2,5.2 L437.8,7.4 L440.2,9.6" stroke="#d24a08" stroke-width="1.2" fill="none"/>
<!-- doc + plus -->
<g><path d="M461.4,0.6 H469.4 L472.2,3.4 V13.4 H461.4 Z" fill="#fcfcfc" stroke="#a0a0a0" stroke-width="0.9"/><path d="M469.4,0.6 V3.4 H472.2" fill="#e4e4e4" stroke="#a0a0a0" stroke-width="0.7"/><path d="M464.6,3.4 C463.4,3.4 463.4,4.2 463.4,5.4 V9 C463.4,10.4 463.6,10.8 464.6,10.8" stroke="#555" stroke-width="0.8" fill="none"/>
<path d="M469.2,6.6 H472.8 V10.2 H476.6 V13.8 H472.8 V17.6 H469.2 V13.8 H465.4 V10.2 H469.2 Z" fill="#2fd02f" stroke="#0f900f" stroke-width="0.8"/></g>
<use href="#dd" x="482.7" y="7.2"/>
<!-- clock -->
<g><circle cx="507" cy="8" r="6.8" fill="#fdfdfd" stroke="url(#gClock)" stroke-width="2.5"/><path d="M507,3.6 V8.2 H510" stroke="#333" stroke-width="1" fill="none"/><circle cx="507" cy="12.2" r="0.5" fill="#5aa0ff"/><circle cx="502.8" cy="8" r="0.4" fill="#888"/><circle cx="511.2" cy="8" r="0.4" fill="#888"/></g>
<use href="#dd" x="521.8" y="7.2"/>
<!-- template icon -->
<g><rect x="538.6" y="1.4" width="15" height="13.4" fill="#fff" stroke="#3d72c2" stroke-width="1"/><rect x="539" y="1.8" width="14.2" height="2" fill="#5a9ae6"/><path d="M539,9.4 H553.2" stroke="#7aa4dc" stroke-width="0.8"/><path d="M540.4,7.4 L542.4,7 L544.4,5.6 L546.4,6.4 L548.4,6.4 L551.6,5.2" stroke="#b02010" stroke-width="1.2" fill="none"/><path d="M541,12.6 L543,11.6 L545,12.4 L548,10.4 L550.8,12.6" stroke="#10901a" stroke-width="1.2" fill="none"/></g>
<use href="#dd" x="560.7" y="7.2"/>
<!-- cursor -->
<path d="M590.3,1.2 V12.6 L592.9,10.2 L594.9,14.8 L596.7,14 L594.7,9.6 L598.2,9.3 Z" fill="#454545"/>
<!-- crosshair -->
<path d="M622.5,1 V16 M615,8.5 H630" stroke="#505050" stroke-width="1" shape-rendering="crispEdges"/><rect x="622" y="8" width="1" height="1" fill="#f0f0f0"/>
<!-- vline, hline, trendline -->
<path d="M656.5,2 V15" stroke="#505050" stroke-width="1" shape-rendering="crispEdges"/>
<path d="M679,8.5 H691" stroke="#505050" stroke-width="1" shape-rendering="crispEdges"/>
<path d="M707,14.8 L719,2.6" stroke="#505050" stroke-width="1.1"/>
<!-- channel E -->
<g stroke="#505050" stroke-width="0.9" fill="none"><path d="M732.8,9.8 L745.6,1.4 M735.2,14.6 L747.2,5.8 M734,12.2 L746.4,3.6"/><path d="M736,13.6 L737.2,7.2 M739,11.6 L740.2,5.2 M742,9.6 L743.2,3.2 M745,7.4 L746,0.4"/></g>
<text x="743.8" y="17.2" font-family="'Liberation Sans',sans-serif" font-size="7px" font-weight="bold" fill="#404040">E</text>
<!-- fibo F -->
<g stroke="#505050" stroke-width="1" stroke-dasharray="1 1" shape-rendering="crispEdges"><path d="M762,1.5 H775 M762,4.5 H775 M762,8.5 H775 M762,12.5 H771"/></g>
<text x="771.8" y="17.2" font-family="'Liberation Sans',sans-serif" font-size="7px" font-weight="bold" fill="#404040">F</text>
<!-- A, T -->
<text x="792.4" y="12.6" font-family="'Liberation Sans',sans-serif" font-size="12px" fill="#5a5a5a" stroke="#5a5a5a" stroke-width="0.4">A</text>
<rect x="819.5" y="2.5" width="11" height="12" fill="none" stroke="#505050" stroke-width="1" stroke-dasharray="1 1" shape-rendering="crispEdges"/>
<text x="821" y="12.6" font-family="'Liberation Sans',sans-serif" font-size="11px" fill="#5a5a5a" stroke="#5a5a5a" stroke-width="0.4">T</text>
<!-- arrows icon -->
<g fill="#404040"><path d="M849.4,1.8 L852.2,4.6 L849.4,7.4 L846.6,4.6 Z"/><path d="M857.2,9.6 L860,12.4 L857.2,15.2 L854.4,12.4 Z"/><path d="M849,8.2 L850.8,10.4 L855.4,5.4" stroke="#404040" stroke-width="1.3" fill="none"/></g>
<use href="#dd" x="866.8" y="7.2"/>
<!-- timeframes -->
<g font-family="'Liberation Sans',sans-serif" font-size="9.3px" fill="#4a4a4a" stroke="#4a4a4a" stroke-width="0.15">
<text x="893.6" y="11.5" textLength="12.2" lengthAdjust="spacingAndGlyphs">M1</text>
<text x="921.5" y="11.5" textLength="12.5" lengthAdjust="spacingAndGlyphs">M5</text>
<text x="947.6" y="11.5" textLength="17.2" lengthAdjust="spacingAndGlyphs">M15</text>
<text x="975.4" y="11.5" textLength="17.8" lengthAdjust="spacingAndGlyphs">M30</text>
<text x="1006.5" y="11.5" textLength="11.5" lengthAdjust="spacingAndGlyphs">H1</text>
<text x="1033.4" y="11.5" textLength="12.2" lengthAdjust="spacingAndGlyphs">H4</text>
<text x="1062.6" y="11.5" textLength="11.4" lengthAdjust="spacingAndGlyphs">D1</text>
<text x="1089.9" y="11.5" textLength="14.3" lengthAdjust="spacingAndGlyphs">W1</text>
<text x="1116.5" y="11.5" textLength="14.7" lengthAdjust="spacingAndGlyphs">MN</text>
</g>
<!-- search -->
<g><path d="M1606.4,8.9 L1602,12.8" stroke="#2a5fd0" stroke-width="2.6" stroke-linecap="round"/><circle cx="1609.5" cy="5.5" r="3.9" fill="#f4f4ff" stroke="#2a5fd0" stroke-width="1.3"/></g>
<!-- chat + badge -->
<g><path d="M1632,5.6 C1638.6,5.6 1638.6,14.6 1632,14.6 C1631.4,14.6 1630.8,14.6 1630.4,14.4 L1629.2,16.6 L1628.8,14 C1625.4,12.6 1625.6,5.6 1632,5.6 Z" fill="#e0e2ea" stroke="#a8a8a8" stroke-width="0.8"/>
<circle cx="1640.4" cy="5.9" r="8.2" fill="url(#gRed)"/>
<text x="1637.1" y="10.1" font-family="'Liberation Sans',sans-serif" font-size="12px" fill="#fff" stroke="#fff" stroke-width="0.3">1</text></g>
</svg>
</div>
</body></html>
